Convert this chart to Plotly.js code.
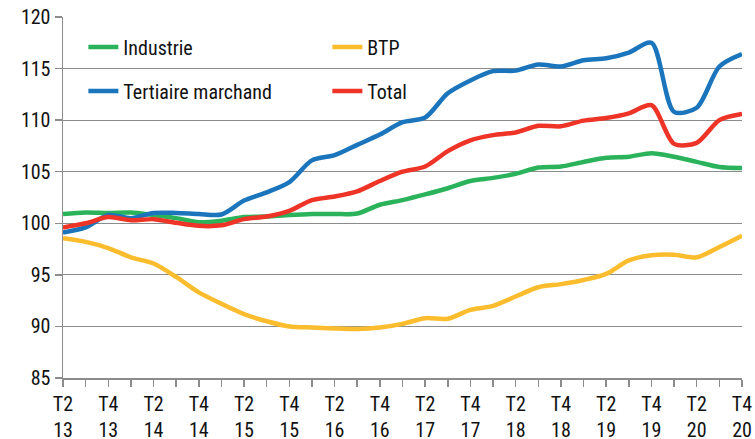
<!DOCTYPE html>
<html>
<head>
<meta charset="utf-8">
<script src="https://cdn.plot.ly/plotly-3.0.1.min.js"></script>
<style>html,body{margin:0;padding:0;background:#fff;}#chart{width:755px;height:439px;}</style>
</head>
<body>
<div id="chart"></div>
<script>
// Quarters T2 2013 .. T4 2020
const quarters = ["T2 13","T3 13","T4 13","T1 14","T2 14","T3 14","T4 14","T1 15","T2 15","T3 15","T4 15","T1 16","T2 16","T3 16","T4 16","T1 17","T2 17","T3 17","T4 17","T1 18","T2 18","T3 18","T4 18","T1 19","T2 19","T3 19","T4 19","T1 20","T2 20","T3 20","T4 20"];
const industrie = [100.9,101.05,101.0,101.05,100.8,100.5,100.1,100.25,100.6,100.65,100.8,100.9,100.9,100.95,101.8,102.25,102.8,103.4,104.1,104.4,104.8,105.4,105.5,105.95,106.35,106.45,106.8,106.45,105.95,105.45,105.35];
const btp = [98.55,98.2,97.6,96.7,96.1,94.8,93.3,92.2,91.2,90.5,90.0,89.9,89.8,89.75,89.9,90.25,90.8,90.75,91.6,92.0,92.9,93.8,94.1,94.5,95.1,96.4,96.9,96.95,96.7,97.7,98.8];
const tertiaire = [99.1,99.6,100.8,100.5,101.0,101.0,100.9,100.85,102.2,103.0,104.0,106.1,106.6,107.6,108.6,109.8,110.25,112.6,113.85,114.75,114.8,115.4,115.2,115.8,116.0,116.55,117.5,110.8,111.2,115.2,116.4];
const total = [99.6,100.0,100.6,100.3,100.4,100.05,99.75,99.8,100.4,100.65,101.2,102.25,102.6,103.1,104.1,105.0,105.5,107.0,108.05,108.55,108.8,109.45,109.4,109.95,110.2,110.65,111.45,107.7,107.8,110.0,110.6];
const seriesNames = ["Industrie","BTP","Tertiaire marchand","Total"];
const seriesColors = ["#2bb35b","#fbbd2e","#1b75bc","#ee3327"];
const tickText = quarters.map((q,i)=> i%2===0 ? q.replace(" ","<br>") : "");

const FONT = "'Roboto Condensed','Liberation Sans Narrow','DejaVu Sans Condensed',Roboto,sans-serif";
const data = [industrie, btp, tertiaire, total].map((vals,k)=>({
  x: quarters, y: vals, type:'scatter', mode:'lines', name: seriesNames[k],
  line:{color:seriesColors[k], width:4.5, shape:'spline', smoothing:0.8},
  legend: k<2 ? 'legend' : 'legend2'
}));
const legendCommon = {orientation:'h', xanchor:'left', yanchor:'middle', entrywidth:199,
  font:{family:FONT, size:20, color:'#111'}, bgcolor:'rgba(0,0,0,0)', borderwidth:0, traceorder:'normal'};
const layout = {
  width:755, height:439,
  margin:{l:63, r:13, t:17, b:61},
  paper_bgcolor:'#fff', plot_bgcolor:'#fff',
  font:{family:FONT, size:20, color:'#111'},
  showlegend:true,
  legend: Object.assign({}, legendCommon, {x:0.03, y:0.917}),
  legend2: Object.assign({}, legendCommon, {x:0.03, y:0.795}),
  xaxis:{type:'category', range:[0,30], tickvals:quarters, ticktext:tickText,
    showgrid:false, showline:true, linecolor:'#8c8c8c', linewidth:1.5,
    ticks:'outside', ticklen:7, tickcolor:'#8c8c8c', tickwidth:1.5, tickangle:0,
    tickfont:{family:FONT, size:20, color:'#111'}, zeroline:false, fixedrange:true},
  yaxis:{range:[85,120], dtick:5, tick0:85, showgrid:true, gridcolor:'#8c8c8c', gridwidth:1.2,
    showline:true, linecolor:'#8c8c8c', linewidth:1.5, ticks:'outside', ticklen:7,
    tickcolor:'#8c8c8c', tickwidth:1.5, tickfont:{family:FONT, size:20, color:'#111'},
    zeroline:false, fixedrange:true}
};
Plotly.newPlot('chart', data, layout, {staticPlot:true});
</script>
</body>
</html>
